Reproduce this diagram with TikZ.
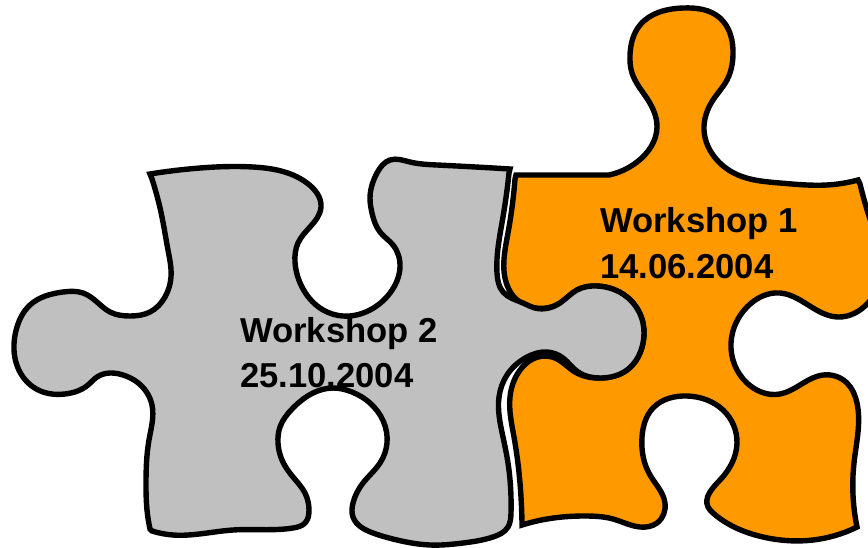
\documentclass[tikz,border=0pt]{standalone}
\usepackage{fontspec}
\setmainfont{Liberation Sans}
\usepackage{xcolor}
\usetikzlibrary{hobby}
\definecolor{pieceorange}{HTML}{FF9900}
\definecolor{piecegray}{HTML}{C0C0C0}
\tikzset{
  piece/.style={draw=black,line width=5.4pt,use Hobby shortcut},
  caption/.style={anchor=base west,inner sep=0pt,font=\fontsize{34.6}{40}\selectfont\bfseries}
}
\begin{document}
\begin{tikzpicture}[x=1pt,y=-1pt]
    \path[use as bounding box,clip] (0,0) rectangle (868,547);
    % orange piece
    \draw[piece,fill=pieceorange]
	(516,175) -- (609,175) .. (637,162) .. (657,127) .. (648,100) .. (632,73) .. (630,55) .. (640,25) .. (683,8) .. (720,18) .. (733,55) .. (727,80) .. (713,100) .. (704,130) .. (717,160) .. (738,175) .. (780,183) .. (827,185) .. (858,180)
	-- (860,184) .. (872,225) .. (882,270) .. (868,303) .. (838,317) .. (813,308) .. (780,293) .. (747,307) .. (731,343) .. (747,383) .. (780,394) .. (800,385) .. (823,375) .. (847,383) .. (857,403) .. (854,463) .. (857,527)
	-- (855,528) .. (813,540) .. (763,537) .. (713,513) .. (708,507) .. (720,480) .. (737,443) .. (723,410) .. (687,396) .. (653,408) .. (642,437) .. (650,475) .. (665,503) .. (657,523) .. (640,527) .. (613,519) .. (587,516) .. (547,519) .. (522,525)
	-- (522,523) .. (521,497) .. (514,437) .. (510,397) .. (518,373) .. (538,357) .. (555,358) .. (575,372) .. (600,378) .. (627,370) .. (643,343) .. (643,323) .. (627,297) .. (597,286) .. (577,290) .. (560,303) .. (535,308) .. (517,300) .. (507,285) .. (508,233) .. (515,179) -- cycle;
    % gray piece
    \draw[piece,fill=piecegray]
	(150,174) .. (200,168) .. (253,167) .. (293,175) .. (307,183) .. (321,207) .. (310,227) .. (298,243) .. (295,262) .. (302,287) .. (320,308) .. (343,316) .. (370,310) .. (390,293) .. (400,267) .. (393,245) .. (380,232) .. (372,213) .. (370,198) .. (377,173) .. (390,160) .. (410,162) .. (437,165) .. (510,169)
	-- (509,173) .. (503,217) .. (497,273) .. (503,292) .. (523,303) .. (535,308) .. (560,303) .. (577,290) .. (597,286) .. (627,297) .. (643,323) .. (643,343) .. (627,370) .. (600,378) .. (578,372) .. (563,358) .. (547,352) .. (527,357) .. (507,375) .. (499,397) .. (503,437) .. (508,463) .. (511,497) .. (511,513) .. (508,527) .. (493,537) .. (463,543) .. (430,545) .. (397,540) .. (373,533) .. (353,517) .. (353,503) .. (363,483) .. (380,463) .. (387,443) .. (370,403) .. (352,392) .. (333,388) .. (313,393) .. (293,408) .. (280,427) .. (278,443) .. (282,460) .. (293,477) .. (305,493) .. (309,510) .. (305,523) .. (293,528) .. (233,530) .. (173,535) .. (152,531)
	-- (150,529) .. (147,510) .. (146,483) .. (149,440) .. (152,405) .. (137,382) .. (123,375) .. (110,373) .. (97,377) .. (88,385) .. (65,394) .. (43,392) .. (23,377) .. (14,350) .. (17,327) .. (30,305) .. (63,292) .. (83,293) .. (97,302) .. (110,312) .. (130,316) .. (150,312) .. (165,297) .. (171,277) .. (168,250) .. (162,217) .. (152,179) -- cycle;
    % captions
    \node[caption] (ws1) at (600,232) {Workshop 1};
    \node[caption] (date1) at (600,278) {14.06.2004};
    \node[caption] (ws2) at (240,342) {Workshop 2};
    \node[caption] (date2) at (240,387) {25.10.2004};
\end{tikzpicture}
\end{document}
